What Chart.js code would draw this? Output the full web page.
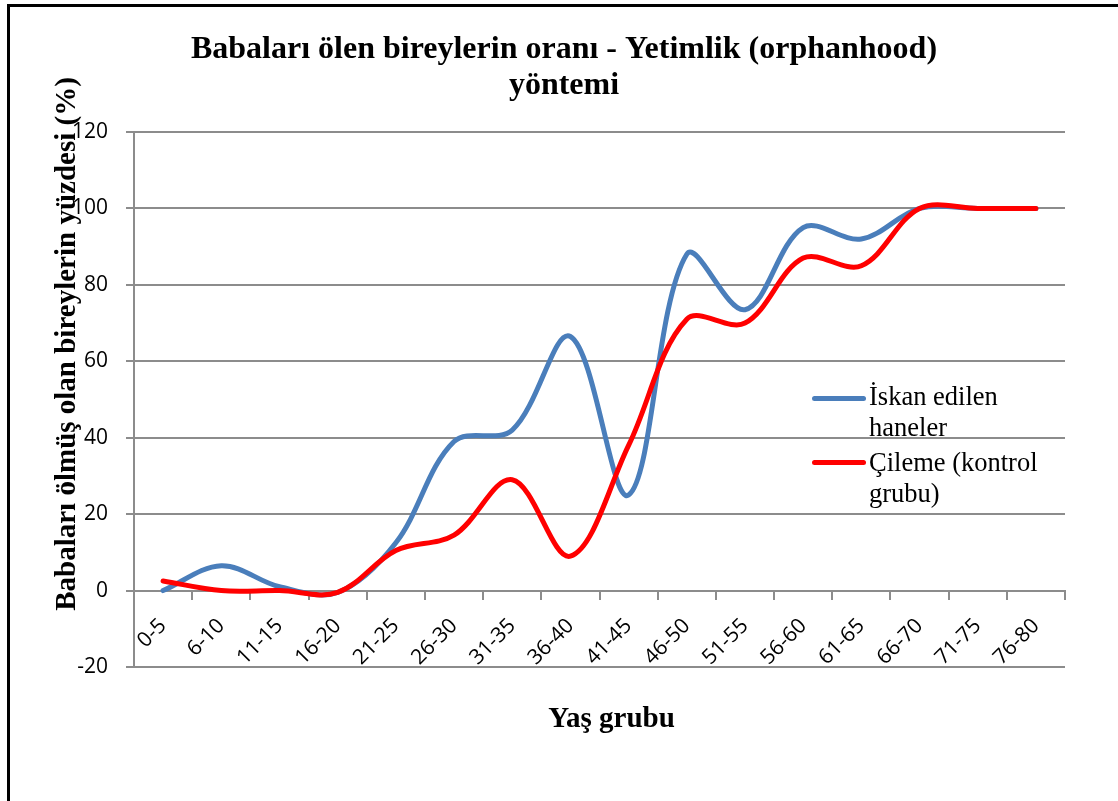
<!DOCTYPE html>
<html>
<head>
<meta charset="utf-8">
<script src="https://cdn.jsdelivr.net/npm/chart.js@4.4.1/dist/chart.umd.min.js"></script>
<style>
  body { margin: 0; background: #fff; }
  #frame { position: absolute; left: 7px; top: 4px; width: 1200px; height: 900px; border: 3px solid #000; }
  #chart { position: absolute; left: 0; top: 0; }
  .legend-line { position: absolute; height: 5px; border-radius: 3px; }
  .legend-text { position: absolute; width: 178px; font-family: "Liberation Serif", serif; font-size: 26.5px; line-height: 31px; color: #000; }
</style>
</head>
<body>
<div id="frame"></div>
<canvas id="chart" width="1118" height="801"></canvas>
<div id="legend"></div>
<script>
const ageGroups = ['0-5', '6-10', '11-15', '16-20', '21-25', '26-30', '31-35', '36-40',
    '41-45', '46-50', '51-55', '56-60', '61-65', '66-70', '71-75', '76-80'];
const iskanValues = [0, 6.5, 1, -0.5, 12.5, 39, 42, 66.5, 25, 88, 73.5, 95, 92, 100, 100, 100];
const cilemeValues = [2.5, 0, 0, -0.5, 10.5, 14.5, 29, 9, 38, 71, 70, 87, 85, 100, 100, 100];
const seriesNames = ['İskan edilen haneler', 'Çileme (kontrol grubu)'];
const seriesColors = ['#4A7EBB', '#FF0000'];

const titleLines = ['Babaları ölen bireylerin oranı - Yetimlik (orphanhood)', 'yöntemi'];
const yTitle = 'Babaları ölmüş olan bireylerin yüzdesi (%)';
const xTitle = 'Yaş grubu';

const gridColor = '#8c8c8c';
const tickFont = { family: '"Open Sans", sans-serif', size: 21 };

// titles drawn the way Excel placed them
const titlesPlugin = {
    id: 'titles',
    afterDraw(chart) {
        const ctx = chart.ctx;
        const area = chart.chartArea;
        ctx.save();
        ctx.fillStyle = '#000';
        ctx.textAlign = 'center';
        ctx.textBaseline = 'alphabetic';

        ctx.font = 'bold 32px "Liberation Serif"';
        ctx.fillText(titleLines[0], 564, 58);
        ctx.fillText(titleLines[1], 564, 94);

        ctx.font = 'bold 29px "Liberation Serif"';
        ctx.fillText(xTitle, (area.left + area.right) / 2 + 12, 727);

        ctx.translate(75, 344);
        ctx.rotate(-Math.PI / 2);
        ctx.fillText(yTitle, 0, 0);
        ctx.restore();
    }
};

const ctx = document.getElementById('chart').getContext('2d');
const chart = new Chart(ctx, {
    type: 'line',
    data: {
        labels: ageGroups,
        datasets: [{
            label: seriesNames[0],
            data: iskanValues,
            borderColor: seriesColors[0],
            order: 2
        }, {
            label: seriesNames[1],
            data: cilemeValues,
            borderColor: seriesColors[1],
            order: 1
        }]
    },
    options: {
        responsive: false,
        animation: false,
        layout: {
            padding: { left: 74, top: 132, right: 53, bottom: 134 }
        },
        elements: {
            line: { borderWidth: 5, tension: 0.35, borderCapStyle: 'round', borderJoinStyle: 'round', fill: false },
            point: { radius: 0, hoverRadius: 0 }
        },
        plugins: {
            legend: { display: false },
            title: { display: false },
            tooltip: { enabled: false }
        },
        scales: {
            x: {
                position: { y: 0 },
                offset: true,
                grid: {
                    offset: true,
                    drawOnChartArea: false,
                    drawTicks: true,
                    tickLength: 8,
                    color: gridColor,
                    lineWidth: 2
                },
                border: { color: gridColor, width: 2 },
                ticks: {
                    font: tickFont,
                    color: '#000',
                    minRotation: 45,
                    maxRotation: 45,
                    autoSkip: false,
                    padding: 15
                }
            },
            y: {
                min: -20,
                max: 120,
                afterFit(scale) { scale.width = 60; },
                grid: {
                    color: gridColor,
                    lineWidth: 2,
                    tickLength: 8
                },
                border: { color: gridColor, width: 2 },
                ticks: {
                    stepSize: 20,
                    font: tickFont,
                    color: '#000',
                    padding: 18
                }
            }
        }
    },
    plugins: [titlesPlugin]
});

// legend placed inside the plot like the original
const legendSpots = [{ lineY: 398, textTop: 381 }, { lineY: 462, textTop: 447 }];
const legendBox = document.getElementById('legend');
chart.data.datasets.forEach((ds, i) => {
    const line = document.createElement('div');
    line.className = 'legend-line';
    line.style.left = '812px';
    line.style.width = '54px';
    line.style.top = (legendSpots[i].lineY - 2.5) + 'px';
    line.style.background = ds.borderColor;
    legendBox.appendChild(line);

    const text = document.createElement('div');
    text.className = 'legend-text';
    text.style.left = '869px';
    text.style.top = legendSpots[i].textTop + 'px';
    text.textContent = ds.label;
    legendBox.appendChild(text);
});
</script>
</body>
</html>
